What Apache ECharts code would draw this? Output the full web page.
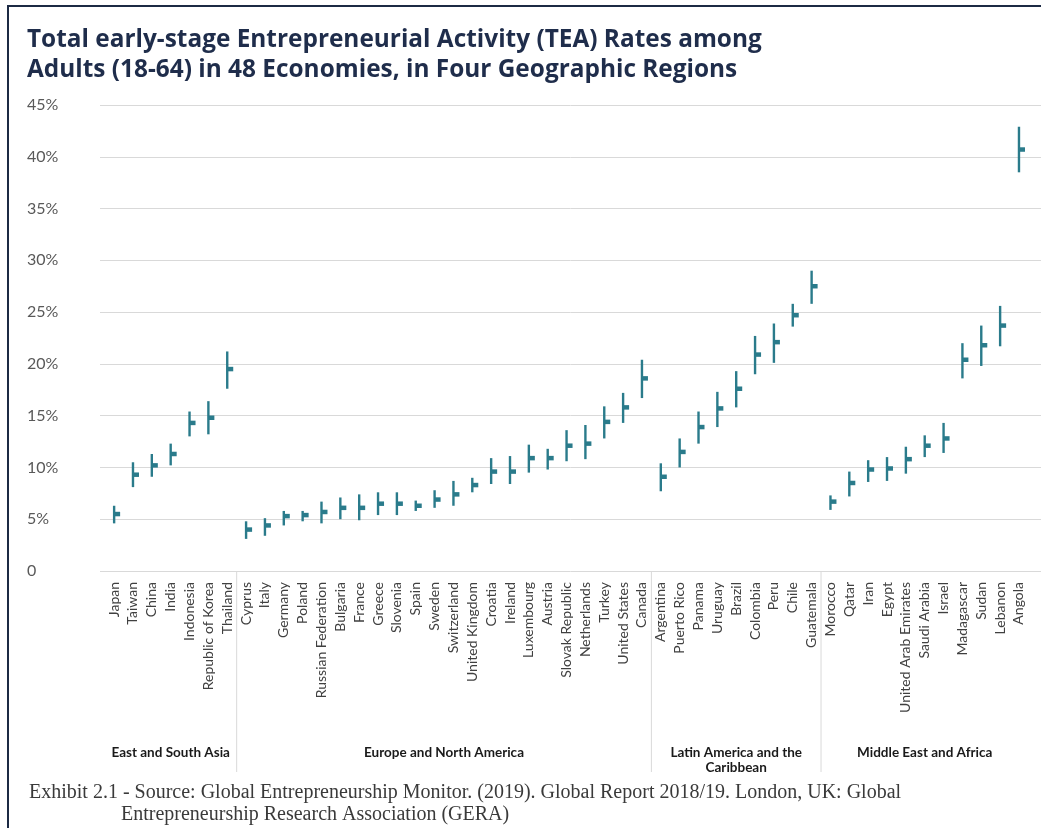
<!DOCTYPE html>
<html>
<head>
<meta charset="utf-8">
<title>TEA Rates by Region</title>
<script src="https://cdn.jsdelivr.net/npm/echarts@6/dist/echarts.min.js"></script>
<style>
  html, body { margin: 0; padding: 0; background: #ffffff; }
  #chart { width: 1041px; height: 828px; }
</style>
</head>
<body>
<div id="chart"></div>
<script>
// Economies, in plotting order (grouped by region)
const countries = [
  'Japan', 'Taiwan', 'China', 'India', 'Indonesia', 'Republic of Korea', 'Thailand',
  'Cyprus', 'Italy', 'Germany', 'Poland', 'Russian Federation', 'Bulgaria', 'France',
  'Greece', 'Slovenia', 'Spain', 'Sweden', 'Switzerland', 'United Kingdom', 'Croatia',
  'Ireland', 'Luxembourg', 'Austria', 'Slovak Republic', 'Netherlands', 'Turkey',
  'United States', 'Canada',
  'Argentina', 'Puerto Rico', 'Panama', 'Uruguay', 'Brazil', 'Colombia', 'Peru', 'Chile',
  'Guatemala',
  'Morocco', 'Qatar', 'Iran', 'Egypt', 'United Arab Emirates', 'Saudi Arabia', 'Israel',
  'Madagascar', 'Sudan', 'Lebanon', 'Angola'
];

// Regions and how many economies each one holds
const regions = ['East and South Asia', 'Europe and North America', 'Latin America and the\nCaribbean', 'Middle East and Africa'];
const regionSizes = [7, 22, 9, 11];

// TEA rate (%) with lower / upper bounds of the confidence interval
const teaRate = [
  5.5, 9.3, 10.2, 11.3, 14.3, 14.8, 19.5,
  4.0, 4.4, 5.3, 5.4, 5.7, 6.1, 6.1, 6.5, 6.5, 6.3, 6.9, 7.4, 8.3, 9.6, 9.6, 10.9, 10.9,
  12.1, 12.3, 14.4, 15.8, 18.6,
  9.1, 11.5, 13.9, 15.7, 17.6, 20.9, 22.1, 24.7, 27.5,
  6.7, 8.5, 9.8, 9.9, 10.8, 12.1, 12.8, 20.4, 21.8, 23.7, 40.7
];
const teaLow = [
  4.6, 8.1, 9.1, 10.2, 13.0, 13.2, 17.6,
  3.1, 3.4, 4.4, 4.8, 4.6, 5.0, 4.9, 5.4, 5.4, 5.8, 6.1, 6.3, 7.6, 8.4, 8.4, 9.5, 9.8,
  10.6, 10.8, 12.8, 14.3, 16.7,
  7.7, 10.0, 12.3, 13.9, 15.8, 19.0, 20.1, 23.6, 25.8,
  5.9, 7.2, 8.6, 8.7, 9.4, 11.0, 11.4, 18.6, 19.8, 21.7, 38.5
];
const teaHigh = [
  6.3, 10.5, 11.3, 12.3, 15.4, 16.4, 21.2,
  4.8, 5.1, 5.8, 5.8, 6.7, 7.1, 7.4, 7.6, 7.6, 6.8, 7.8, 8.7, 9.0, 10.9, 11.1, 12.2, 11.8,
  13.6, 14.1, 15.9, 17.2, 20.4,
  10.4, 12.8, 15.4, 17.3, 19.3, 22.7, 23.9, 25.8, 29.0,
  7.3, 9.6, 10.7, 11.0, 12.0, 13.1, 14.3, 22.0, 23.7, 25.6, 42.9
];

// Value axis range and step (percent)
const yMin = 0;
const yMax = 45;
const yStep = 5;

const markColor = '#2a7b8b';
const gridTop = 105;
const gridBottom = 257;

const chart = echarts.init(document.getElementById('chart'), null, { renderer: 'canvas' });

const option = {
  backgroundColor: '#ffffff',
  animation: false,
  title: {
    text: 'Total early-stage Entrepreneurial Activity (TEA) Rates among\nAdults (18-64) in 48 Economies, in Four Geographic Regions',
    left: 27,
    top: 25,
    padding: 0,
    textStyle: {
      fontFamily: 'Open Sans',
      fontWeight: 'bold',
      fontSize: 24.4,
      lineHeight: 30,
      color: '#1f2d4b'
    }
  },
  grid: [
    // background grid: percentage gridlines and labels
    { left: 100, right: 0, top: gridTop, bottom: gridBottom },
    // category grid holding the economies
    { left: 104.7, right: 12.6, top: gridTop, bottom: gridBottom }
  ],
  xAxis: [
    { type: 'value', gridIndex: 0, show: false, min: 0, max: 1 },
    {
      type: 'category',
      gridIndex: 1,
      data: countries,
      boundaryGap: true,
      axisLine: { show: false },
      axisTick: { show: false },
      splitLine: { show: false },
      axisLabel: {
        interval: 0,
        rotate: 90,
        margin: 11,
        fontFamily: 'Lato',
        fontSize: 14,
        color: '#404040'
      }
    }
  ],
  yAxis: [
    {
      type: 'value',
      gridIndex: 0,
      min: yMin,
      max: yMax,
      interval: yStep,
      axisLine: { show: false },
      axisTick: { show: false },
      splitLine: { lineStyle: { color: '#d9d9d9', width: 1 } },
      axisLabel: {
        align: 'left',
        margin: 73,
        fontFamily: 'Lato',
        fontSize: 16,
        color: '#595959',
        formatter: v => (v === 0 ? '0' : v + '%')
      }
    },
    { type: 'value', gridIndex: 1, min: yMin, max: yMax, show: false }
  ],
  series: [
    {
      type: 'custom',
      name: 'TEA',
      xAxisIndex: 1,
      yAxisIndex: 1,
      data: countries.map((c, i) => [i, teaLow[i], teaRate[i], teaHigh[i]]),
      encode: { x: 0, y: [1, 2, 3] },
      renderItem: function (params, api) {
        const lo = api.coord([api.value(0), api.value(1)]);
        const mid = api.coord([api.value(0), api.value(2)]);
        const hi = api.coord([api.value(0), api.value(3)]);
        return {
          type: 'group',
          children: [
            {
              type: 'line',
              shape: { x1: lo[0], y1: lo[1], x2: hi[0], y2: hi[1] },
              style: { stroke: markColor, lineWidth: 2.4 }
            },
            {
              type: 'rect',
              shape: { x: mid[0], y: mid[1] - 2.25, width: 6, height: 4.5 },
              style: { fill: markColor }
            }
          ]
        };
      }
    }
  ]
};

chart.setOption(option);

// Region separators and region names under the category labels
const c0 = chart.convertToPixel({ xAxisIndex: 1 }, 0);
const c1 = chart.convertToPixel({ xAxisIndex: 1 }, 1);
const band = c1 - c0;
const axisY = chart.convertToPixel({ yAxisIndex: 0 }, 0);
const graphics = [];
let start = 0;
regionSizes.forEach((n, r) => {
  const left = c0 - band / 2 + start * band;
  const right = left + n * band;
  if (r > 0) {
    graphics.push({
      type: 'line',
      shape: { x1: left, y1: axisY, x2: left, y2: 772 },
      style: { stroke: '#d9d9d9', lineWidth: 1 }
    });
  }
  graphics.push({
    type: 'text',
    x: (left + right) / 2,
    y: 745,
    style: {
      text: regions[r],
      textAlign: 'center',
      textVerticalAlign: 'top',
      font: 'bold 13.5px Lato',
      lineHeight: 15,
      fill: '#1a1a1a'
    }
  });
  start += n;
});

// Source note
graphics.push({
  type: 'text',
  x: 29,
  y: 793,
  style: {
    text: 'Exhibit 2.1 - Source: Global Entrepreneurship Monitor. (2019). Global Report 2018/19. London, UK: Global',
    textVerticalAlign: 'middle',
    font: '20px "Liberation Serif"',
    fill: '#3a3a3a'
  }
});
graphics.push({
  type: 'text',
  x: 121,
  y: 815,
  style: {
    text: 'Entrepreneurship Research Association (GERA)',
    textVerticalAlign: 'middle',
    font: '20px "Liberation Serif"',
    fill: '#3a3a3a'
  }
});

// Frame around the exhibit
graphics.push({
  type: 'polyline',
  shape: { points: [[8, 828], [8, 6], [1041, 6]] },
  style: { stroke: '#1c2a44', lineWidth: 2, fill: null }
});

chart.setOption({ graphic: graphics });
</script>
</body>
</html>
